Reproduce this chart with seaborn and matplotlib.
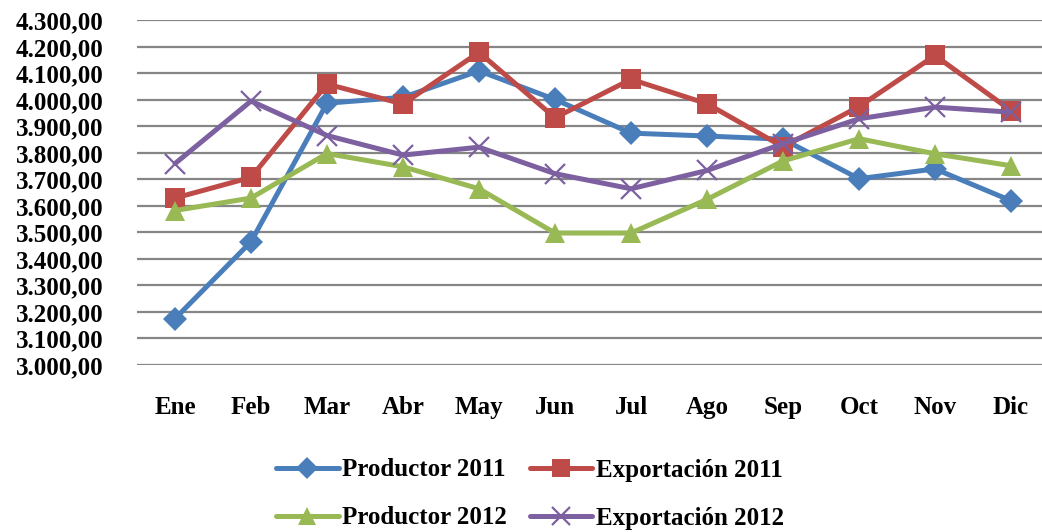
import matplotlib
matplotlib.use("Agg")
import matplotlib.pyplot as plt
import seaborn as sns
import pandas as pd
from matplotlib.ticker import FixedLocator, FuncFormatter

months = ["Ene", "Feb", "Mar", "Abr", "May", "Jun", "Jul", "Ago", "Sep", "Oct", "Nov", "Dic"]

productor_2011 = [3175, 3465, 3988, 4010, 4110, 4002, 3875, 3864, 3852, 3703, 3740, 3620]
exportacion_2011 = [3630, 3708, 4060, 3985, 4180, 3933, 4078, 3986, 3823, 3975, 4168, 3960]
productor_2012 = [3583, 3630, 3798, 3748, 3665, 3498, 3498, 3625, 3770, 3854, 3797, 3752]
exportacion_2012 = [3760, 3996, 3866, 3792, 3822, 3722, 3665, 3734, 3835, 3929, 3973, 3954]

series_names = ["Productor 2011", "Exportación 2011", "Productor 2012", "Exportación 2012"]
series_values = [productor_2011, exportacion_2011, productor_2012, exportacion_2012]

y_ticks = list(range(3000, 4301, 100))

colors = {
    "Productor 2011": "#4A7EBB",
    "Exportación 2011": "#BE4B48",
    "Productor 2012": "#98B954",
    "Exportación 2012": "#7D60A0",
}
markers = {
    "Productor 2011": dict(marker="D", markersize=12, markeredgewidth=0),
    "Exportación 2011": dict(marker="s", markersize=14, markeredgewidth=0),
    "Productor 2012": dict(marker="^", markersize=15, markeredgewidth=0),
    "Exportación 2012": dict(marker="x", markersize=14, markeredgewidth=1.6),
}

sns.set_theme(style="white")
plt.rcParams["font.family"] = ["Liberation Serif", "DejaVu Serif"]
plt.rcParams["font.weight"] = "bold"
plt.rcParams["text.color"] = "black"
plt.rcParams["xtick.color"] = "black"
plt.rcParams["ytick.color"] = "black"

fig = plt.figure(figsize=(10.42, 5.32), dpi=100)
ax = fig.add_axes([137 / 1042, 1 - 365 / 532, (1049 - 137) / 1042, (365 - 20.5) / 532])

handles = {}
for name, vals in zip(series_names, series_values):
    df = pd.DataFrame({"Mes": months, "Valor": vals})
    sns.lineplot(data=df, x="Mes", y="Valor", ax=ax, color=colors[name],
                 linewidth=3.6, sort=False, label=name,
                 markerfacecolor=colors[name], markeredgecolor=colors[name],
                 **markers[name])
    handles[name] = ax.get_lines()[-1]

ax.set_ylim(3000, 4300)
ax.set_xlim(-0.5, 11.5)
ax.yaxis.set_major_locator(FixedLocator(y_ticks))


def es_format(v, pos):
    s = f"{v:,.2f}"
    return s.replace(",", "X").replace(".", ",").replace("X", ".")


ax.yaxis.set_major_formatter(FuncFormatter(es_format))
ax.grid(axis="y", color="#868686", linewidth=1.6)
ax.grid(axis="x", visible=False)
ax.set_axisbelow(True)
for sp in ax.spines.values():
    sp.set_visible(False)
ax.set_xlabel("")
ax.set_ylabel("")
ax.tick_params(axis="y", labelsize=18, pad=24, length=0, labelcolor="black")
ax.tick_params(axis="x", labelsize=18, pad=22, length=0, labelcolor="black")
for lbl in ax.get_xticklabels() + ax.get_yticklabels():
    lbl.set_fontweight("bold")

ax.get_legend().remove()
order = ["Productor 2011", "Productor 2012", "Exportación 2011", "Exportación 2012"]
leg = fig.legend([handles[n] for n in order], order, loc="center", ncol=2,
                 bbox_to_anchor=(530 / 1042, 1 - 494 / 532), frameon=False,
                 prop={"family": "Liberation Serif", "weight": "bold", "size": 18},
                 handlelength=2.5, handletextpad=0.15, columnspacing=0.9,
                 labelspacing=1.0, markerscale=0.9)
for t in leg.get_texts():
    t.set_color("black")

fig.savefig("out.png", dpi=100)
